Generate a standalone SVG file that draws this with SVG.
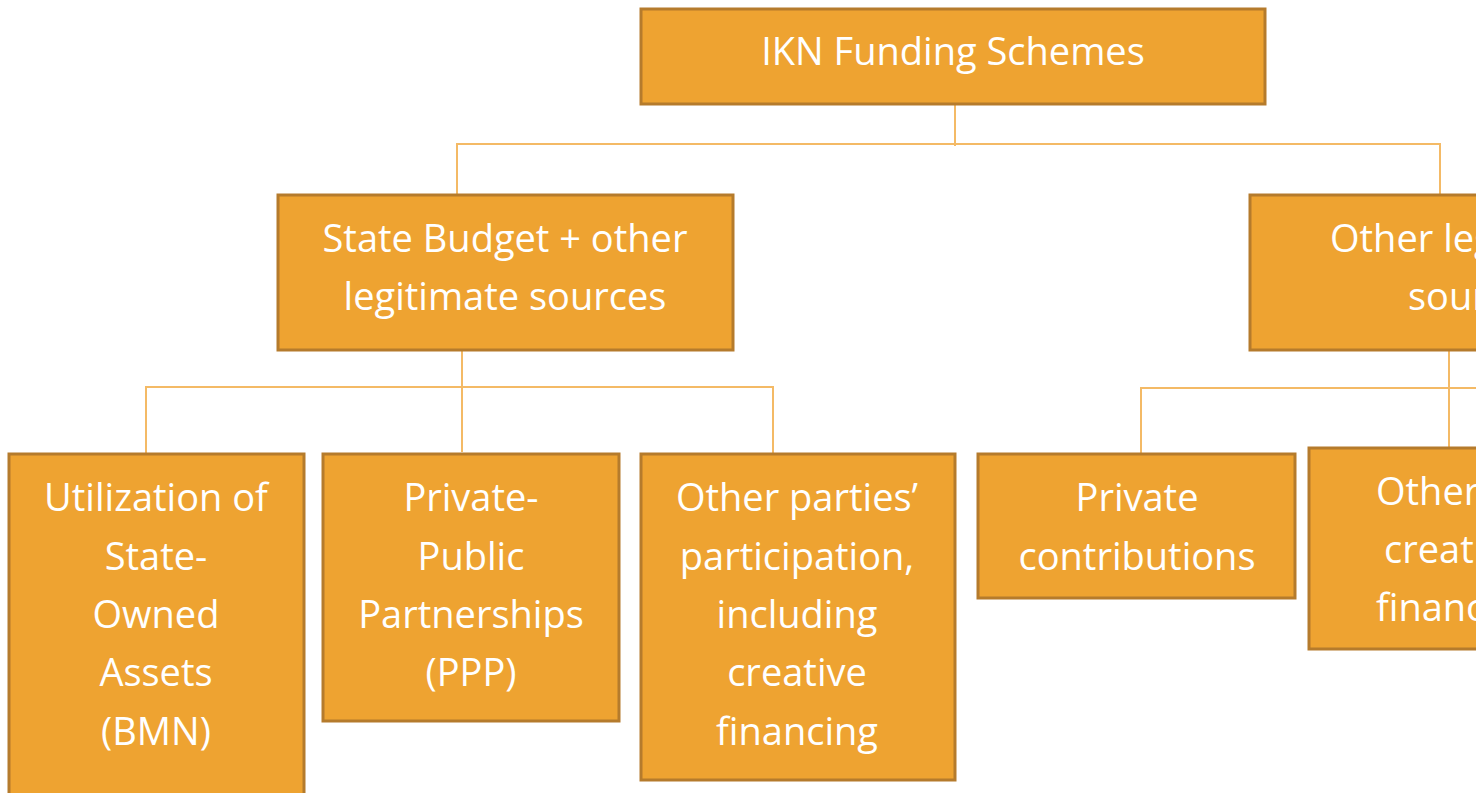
<svg xmlns="http://www.w3.org/2000/svg" width="1476" height="793" viewBox="0 0 1476 793">
<style>
.box{fill:#EEA331;stroke:#B57B2C;stroke-width:3}
.t{font-family:"Open Sans","Liberation Sans",sans-serif;font-size:38px;fill:#FFFFFF;text-anchor:middle}
.ts{font-family:"Open Sans","Liberation Sans",sans-serif;font-size:38px;fill:#FFFFFF;text-anchor:start}
.c{fill:none;stroke:#F4BA66;stroke-width:2}
</style>
<rect width="1476" height="793" fill="#FFFFFF"/>
<g id="connectors">
<path class="c" d="M955,104 V146 M457,194 V144 H1440 V194"/>
<path class="c" d="M462,350 V452 M146,453 V387 H773 V453"/>
<path class="c" d="M1449,350 V448 M1141,454 V388 H1476"/>
</g>
<g id="root">
<rect class="box" x="641" y="9" width="624" height="95"/>
<text class="t" x="953" y="65">IKN Funding Schemes</text>
</g>
<g id="state-budget">
<rect class="box" x="278" y="195" width="455" height="155"/>
<text class="t" x="505" y="252">State Budget + other</text>
<text class="t" x="505" y="310">legitimate sources</text>
</g>
<g id="other-legitimate">
<rect class="box" x="1250" y="195" width="455" height="155"/>
<text class="ts" x="1330" y="252">Other legitimate</text>
<text class="ts" x="1408" y="310">sources</text>
</g>
<g id="bmn">
<rect class="box" x="9" y="454" width="295" height="360"/>
<text class="t" x="156" y="511">Utilization of</text>
<text class="t" x="156" y="570">State-</text>
<text class="t" x="156" y="628">Owned</text>
<text class="t" x="156" y="686">Assets</text>
<text class="t" x="156" y="745">(BMN)</text>
</g>
<g id="ppp">
<rect class="box" x="323" y="454" width="296" height="267"/>
<text class="t" x="471" y="511">Private-</text>
<text class="t" x="471" y="570">Public</text>
<text class="t" x="471" y="628">Partnerships</text>
<text class="t" x="471" y="686">(PPP)</text>
</g>
<g id="other-parties">
<rect class="box" x="641" y="454" width="314" height="326"/>
<text class="t" x="797" y="511">Other parties’</text>
<text class="t" x="797" y="570">participation,</text>
<text class="t" x="797" y="628">including</text>
<text class="t" x="797" y="686">creative</text>
<text class="t" x="797" y="745">financing</text>
</g>
<g id="private-contributions">
<rect class="box" x="978" y="454" width="317" height="144"/>
<text class="t" x="1137" y="511">Private</text>
<text class="t" x="1137" y="570">contributions</text>
</g>
<g id="other-creative">
<rect class="box" x="1309" y="448" width="300" height="201"/>
<text class="ts" x="1376" y="505">Other</text>
<text class="ts" x="1384" y="563">creative</text>
<text class="ts" x="1376" y="621">financing</text>
</g>
</svg>
